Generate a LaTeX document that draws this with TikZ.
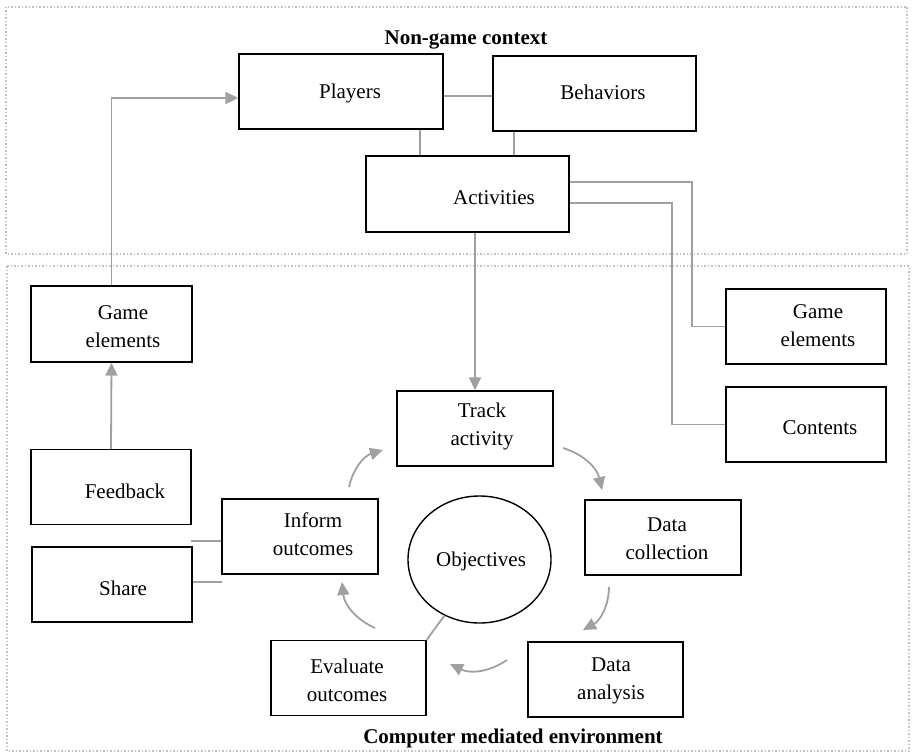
\documentclass[tikz,border=0pt]{standalone}
\usepackage{fontspec}
\setmainfont{Liberation Serif}
\usetikzlibrary{shapes.geometric,arrows.meta}
\definecolor{linegray}{RGB}{160,160,160}
\definecolor{dotgray}{RGB}{195,195,195}
\begin{document}
\begin{tikzpicture}[x=1pt,y=-1pt,
  box/.style={draw=black, line width=1.4pt, inner sep=0pt, minimum height=75pt},
  txt/.style={font=\fontsize{21}{28}\selectfont, align=center, inner sep=0pt},
  ttl/.style={font=\fontsize{21}{25}\selectfont\bfseries, inner sep=0pt},
  conn/.style={draw=linegray, line width=1.8pt},
  arr/.style={conn, -{Triangle[length=13pt,width=12pt]}},
  dotbox/.style={draw=dotgray, line width=1.5pt, dash pattern=on 1.5pt off 2pt}]
\useasboundingbox (0,0) rectangle (912,754);
% context frames
\draw[dotbox] (6,7) rectangle (907,254);
\draw[dotbox] (7,266) rectangle (909,751);
\node[ttl] (t1) at (466,40) {Non-game context};
\node[ttl] (t2) at (513,738) {Computer mediated environment};
% boxes
\node[box, minimum width=204pt] (players) at (341,91.5) {};
\node[txt] (players-t) at (350,93) {Players};
\node[box, minimum width=203pt] (behav) at (594.5,93.5) {};
\node[txt] (behav-t) at (603,92) {Behaviors};
\node[box, minimum width=203pt, minimum height=76pt] (act) at (467.5,194) {};
\node[txt] (act-t) at (494,198) {Activities};
\node[box, minimum width=161pt, minimum height=76pt] (gel) at (111.5,324) {};
\node[txt] (gel-t) at (123,327) {Game\\elements};
\node[box, minimum width=160pt] (fb) at (111,487) {};
\node[txt] (fb-t) at (125,491) {Feedback};
\node[box, minimum width=160pt] (share) at (112,584.5) {};
\node[txt] (share-t) at (123,588) {Share};
\node[box, minimum width=156pt] (inform) at (300,536.5) {};
\node[txt] (inform-t) at (313,534) {Inform\\outcomes};
\node[box, minimum width=155pt] (eval) at (348.5,678) {};
\node[txt] (eval-t) at (347,680) {Evaluate\\outcomes};
\node[box, minimum width=156pt] (trk) at (475,428.5) {};
\node[txt] (trk-t) at (482,426) {Track\\activity};
\node[box, minimum width=156pt] (dc) at (663,537.5) {};
\node[txt] (dc-t) at (667,539) {Data\\collection};
\node[box, minimum width=155pt] (da) at (605.5,679.5) {};
\node[txt] (da-t) at (611,681) {Data\\analysis};
\node[box, minimum width=160pt] (ger) at (806,326.5) {};
\node[txt] (ger-t) at (818,326) {Game\\elements};
\node[box, minimum width=160pt] (cont) at (806,424.5) {};
\node[txt] (cont-t) at (820,428) {Contents};
\node[ellipse, draw=black, line width=1.4pt, inner sep=0pt, minimum width=143pt, minimum height=127pt] (obj) at (479.5,559.5) {};
\node[txt] (obj-t) at (481,561) {Objectives};
% connectors
\draw[arr] (gel.north) |- ([yshift=-6.5pt]players.west);
\draw[conn] (players.east |- 0,96) -- (behav.west |- 0,96);
\draw[conn] (players.south -| 420,0) -- (act.north -| 420,0);
\draw[conn] (behav.south -| 514,0) -- (act.north -| 514,0);
\draw[conn] (act.east |- 0,182) -- (692,182) |- (ger.west);
\draw[conn] (act.east |- 0,203) -- (672,203) |- (cont.west);
\draw[arr] (trk.north |- act.south) -- (trk.north);
\draw[arr] (fb.north) -- (gel.south);
\coordinate (s1) at (191,541);
\coordinate (s2) at (222,582);
\draw[conn] (inform.west |- s1) -- (s1);
\draw[conn] (share.east |- s2) -- (s2);
\draw[conn] (obj.238) -- (eval.north east);
% cycle arrows
\coordinate (a1) at (349,487); \coordinate (a2) at (383,450);
\coordinate (b1) at (563,448); \coordinate (b2) at (602,490);
\coordinate (c1) at (609,587); \coordinate (c2) at (583,630);
\coordinate (d1) at (507,660); \coordinate (d2) at (450,664);
\coordinate (e1) at (375,628); \coordinate (e2) at (342,582);
\draw[arr] (a1) to[bend left=30] (a2);
\draw[arr] (b1) to[bend left=30] (b2);
\draw[arr] (c1) to[bend left=30] (c2);
\draw[arr] (d1) to[bend left=30] (d2);
\draw[arr] (e1) to[bend left=30] (e2);
\end{tikzpicture}
\end{document}
